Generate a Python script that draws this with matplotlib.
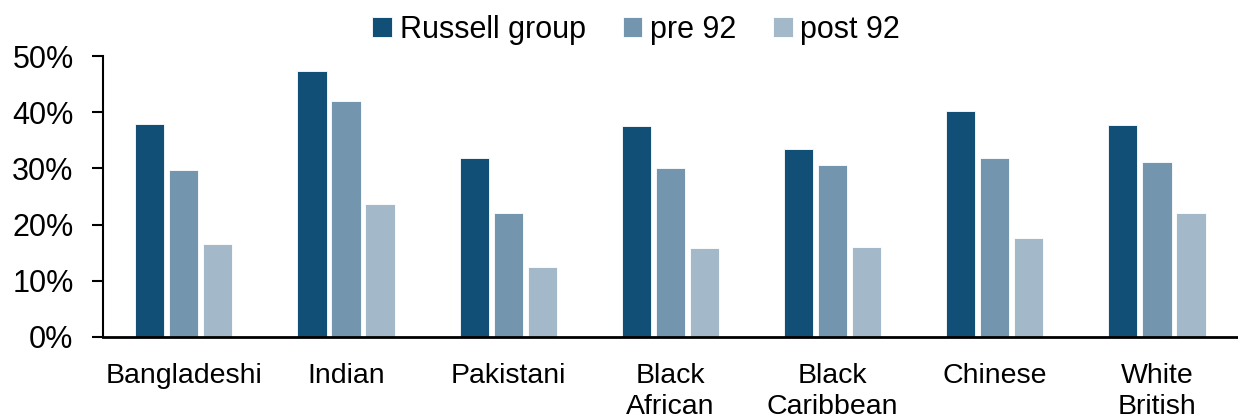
import matplotlib.pyplot as plt
import numpy as np
from matplotlib.ticker import PercentFormatter

# data
groups = [
    "Bangladeshi",
    "Indian",
    "Pakistani",
    "Black\nAfrican",
    "Black\nCaribbean",
    "Chinese",
    "White\nBritish",
]
russell = [37.9, 47.3, 31.8, 37.6, 33.5, 40.2, 37.7]
pre92 = [29.7, 42.1, 22.1, 30.1, 30.6, 31.9, 31.1]
post92 = [16.6, 23.7, 12.5, 15.9, 16.0, 17.6, 22.1]

series = [
    ("Russell group", russell, "#124f76"),
    ("pre 92", pre92, "#7396ae"),
    ("post 92", post92, "#a3b9c9"),
]

plt.rcParams["font.family"] = ["Liberation Sans", "DejaVu Sans"]

fig = plt.figure(figsize=(12.38, 4.16), dpi=100)
ax = fig.add_axes([0.083, 0.19, 0.917, 0.675])

x = np.arange(len(groups))
step = 0.21
for i, (name, vals, col) in enumerate(series):
    ax.bar(
        x + (i - 1) * step,
        vals,
        width=0.18,
        color=col,
        edgecolor="white",
        linewidth=0.6,
        label=name,
    )

# axes formatting
ax.set_xlim(-0.5, len(groups) - 0.5)
ax.set_ylim(0, 50)
ax.set_yticks(np.arange(0, 51, 10))
ax.yaxis.set_major_formatter(PercentFormatter(decimals=0))
ax.set_xticks(x)
ax.set_xticklabels(groups, fontsize=20.5, linespacing=1.25, va="top")
ax.tick_params(axis="x", length=0, pad=19)
ax.tick_params(axis="y", length=8, width=1.5, labelsize=22, pad=13)

ax.spines["top"].set_visible(False)
ax.spines["right"].set_visible(False)
ax.spines["left"].set_linewidth(1.5)
ax.spines["bottom"].set_linewidth(2)

fig.legend(
    loc="center",
    bbox_to_anchor=(0.514, 0.928),
    ncol=3,
    frameon=False,
    fontsize=22,
    handlelength=0.65,
    handleheight=0.65,
    handletextpad=0.25,
    columnspacing=1.2,
)

fig.savefig("out.png", dpi=100)
